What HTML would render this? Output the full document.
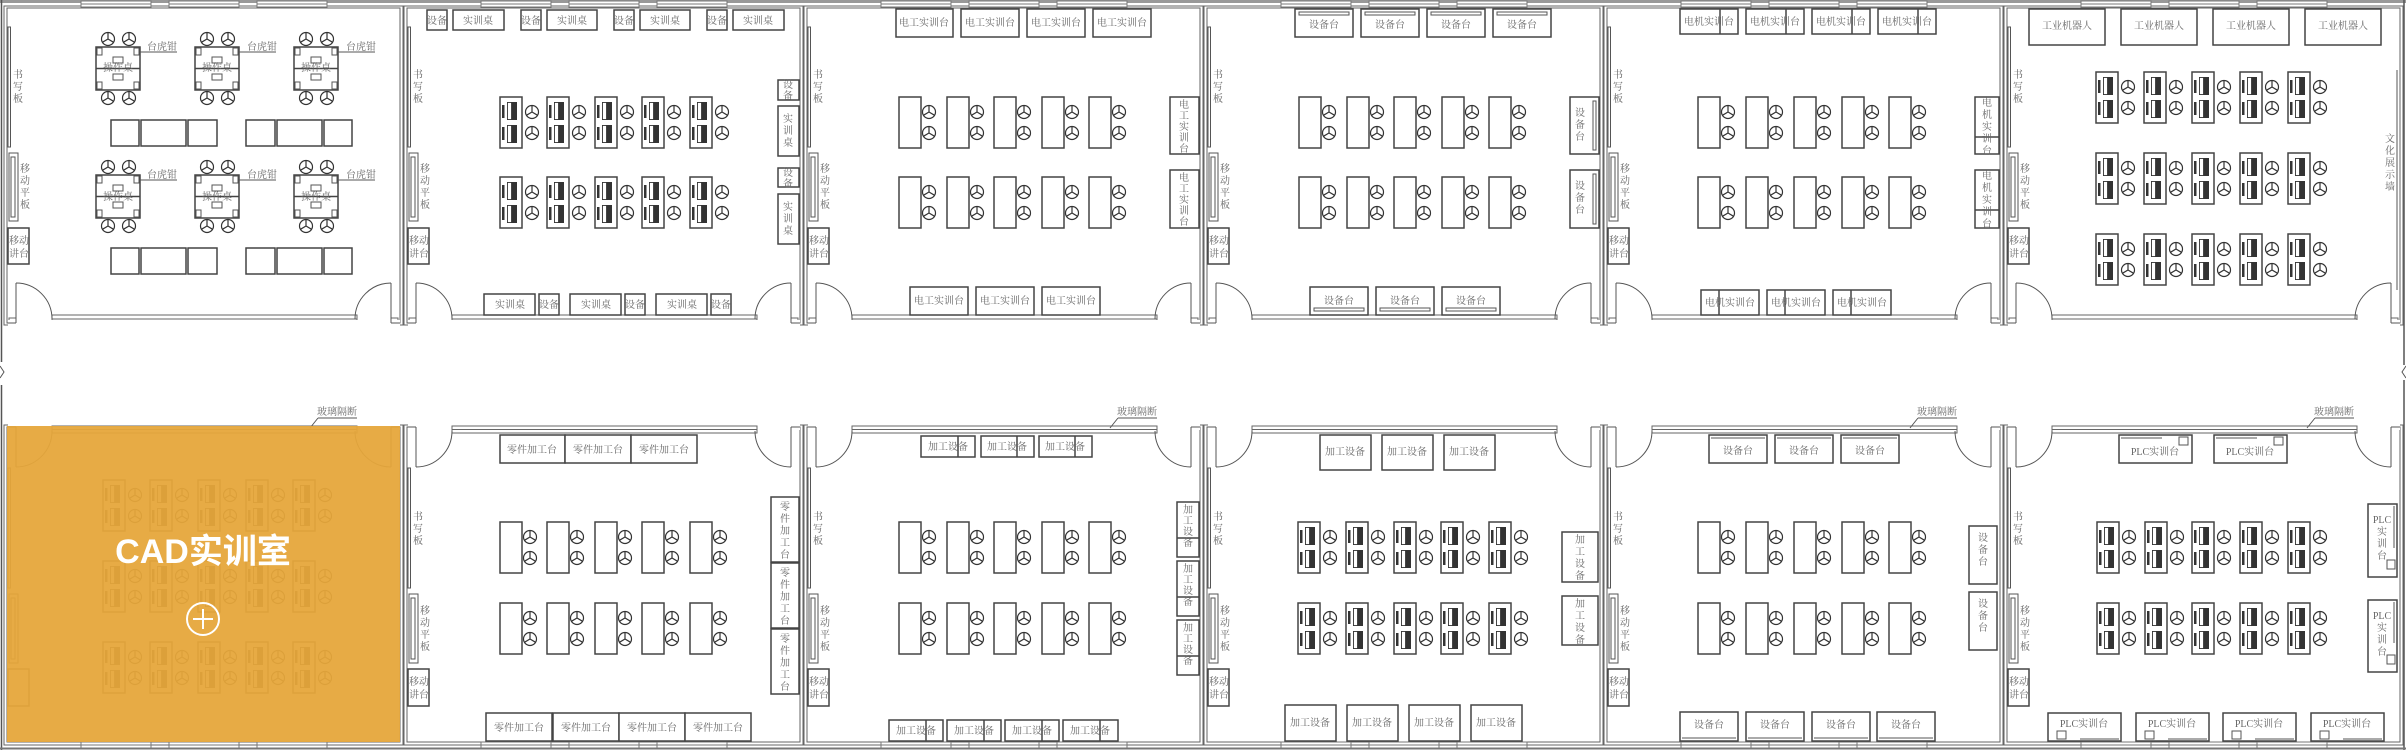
<!DOCTYPE html>
<html><head><meta charset="utf-8"><style>
html,body{margin:0;padding:0;background:#fff;}
svg{display:block;}
.b{fill:#fff;stroke:#444;stroke-width:1.5;}
.t{fill:none;stroke:#555;stroke-width:1;}
.w{fill:none;stroke:#666;stroke-width:1;}
text{font-family:"Liberation Serif","Noto Serif CJK SC",serif;font-size:10px;fill:#666;}
.m{text-anchor:middle;}
</style></head><body>
<svg width="2406" height="750" viewBox="0 0 2406 750" xmlns="http://www.w3.org/2000/svg">
<defs>
<g id="ch"><circle cx="0" cy="0" r="6.5" fill="#fff" stroke="#333" stroke-width="1.2"/><path d="M0 0V-6.5M0 0L5.6 3.3M0 0L-5.6 3.3" stroke="#333" stroke-width="1.2"/></g>
<g id="du"><rect x="0" y="0" width="22" height="51" fill="#fff" stroke="#444" stroke-width="1.5"/><use href="#ch" x="30" y="15"/><use href="#ch" x="30" y="36"/></g>
<g id="pu"><rect x="0" y="0" width="22" height="51" fill="#fff" stroke="#444" stroke-width="1.5"/>
<rect x="2" y="8" width="2.5" height="13" fill="#333"/><rect x="2" y="30" width="2.5" height="13" fill="#333"/>
<rect x="7" y="5" width="10" height="18" fill="#333"/><rect x="7.5" y="5.5" width="4" height="17" fill="#fff" stroke="#333" stroke-width="0.8"/>
<rect x="7" y="28" width="10" height="18" fill="#333"/><rect x="7.5" y="28.5" width="4" height="17" fill="#fff" stroke="#333" stroke-width="0.8"/>
<use href="#ch" x="32" y="15"/><use href="#ch" x="32" y="36"/></g>
<g id="op"><rect x="0" y="0" width="44" height="43" fill="#fff" stroke="#444" stroke-width="1.5"/><line x1="0" y1="21.5" x2="44" y2="21.5" stroke="#444" stroke-width="1.5"/>
<rect x="1" y="1" width="5" height="7" class="t"/><rect x="38" y="1" width="5" height="7" class="t"/><rect x="1" y="35" width="5" height="7" class="t"/><rect x="38" y="35" width="5" height="7" class="t"/>
<rect x="17" y="10" width="10" height="6" class="t"/><rect x="17" y="27" width="10" height="6" class="t"/>
<use href="#ch" x="12" y="-8"/><use href="#ch" x="33" y="-8"/><use href="#ch" x="12" y="51"/><use href="#ch" x="33" y="51"/></g>
<g id="win"><rect x="0" y="0" width="70" height="6" fill="#fff" stroke="#777" stroke-width="1"/><line x1="0" y1="3" x2="70" y2="3" stroke="#777"/></g>
<!-- top room walls, local x 0 = inner left -->
<g id="rt">
<rect x="0" y="8" width="393" height="315" class="w"/>
<rect x="-3" y="6" width="399" height="319" class="w"/>
<use href="#win" x="74" y="1"/><use href="#win" x="162" y="1"/><use href="#win" x="250" y="1"/>
<rect x="45" y="315" width="305" height="8" fill="#fff" class="w"/><line x1="45" y1="319" x2="350" y2="319" stroke="#666"/>
<rect x="2" y="318" width="7" height="5" fill="#fff" stroke="#666"/><rect x="384" y="318" width="7" height="5" fill="#fff" stroke="#666"/>
<rect x="1" y="320" width="392" height="10" fill="#fff" stroke="none"/>
<line x1="9" y1="283" x2="9" y2="323" stroke="#555"/><path d="M9 283A36 36 0 0 1 45 319" class="t"/>
<line x1="384" y1="283" x2="384" y2="323" stroke="#555"/><path d="M384 283A36 36 0 0 0 348 319" class="t"/>
<line x1="0" y1="323" x2="9" y2="323" stroke="#555"/><line x1="384" y1="323" x2="393" y2="323" stroke="#555"/>
<rect x="1" y="27" width="2.5" height="120" class="t"/>
<rect x="2" y="153" width="9" height="68" class="t"/><rect x="4" y="157" width="4" height="60" class="t"/>
<rect x="1" y="228" width="21" height="36" class="b"/>
</g>
<g id="rb">
<rect x="0" y="427" width="393" height="315" class="w"/>
<rect x="-3" y="425" width="399" height="320" class="w"/>
<use href="#win" x="74" y="742"/><use href="#win" x="162" y="742"/><use href="#win" x="250" y="742"/>
<rect x="1" y="420" width="392" height="10" fill="#fff" stroke="none"/>
<rect x="45" y="426" width="305" height="7" fill="#fff" class="w"/><line x1="45" y1="429.5" x2="350" y2="429.5" stroke="#666"/>
<line x1="0" y1="427" x2="9" y2="427" stroke="#555"/><line x1="384" y1="427" x2="393" y2="427" stroke="#555"/>
<line x1="9" y1="427" x2="9" y2="467" stroke="#555"/><path d="M9 467A36 36 0 0 0 45 431" class="t"/>
<line x1="384" y1="427" x2="384" y2="467" stroke="#555"/><path d="M384 467A36 36 0 0 1 348 431" class="t"/>
<rect x="1" y="468" width="2.5" height="120" class="t"/>
<rect x="2" y="594" width="9" height="69" class="t"/><rect x="4" y="598" width="4" height="61" class="t"/>
<rect x="1" y="669" width="21" height="37" class="b"/>
</g>
</defs>

<!-- outer lines -->
<line x1="0" y1="1.5" x2="2406" y2="1.5" stroke="#999" stroke-width="3"/>
<line x1="1.5" y1="0" x2="1.5" y2="362" stroke="#555" stroke-width="1.5"/><path d="M0 366L4 372L0 378" class="t"/><line x1="1.5" y1="385" x2="1.5" y2="750" stroke="#555" stroke-width="1.5"/>
<line x1="2404" y1="0" x2="2404" y2="365" stroke="#555" stroke-width="1.5"/><path d="M2406 366L2402 372L2406 378" class="t"/><line x1="2404" y1="380" x2="2404" y2="750" stroke="#555" stroke-width="1.5"/>
<line x1="0" y1="748.5" x2="2406" y2="748.5" stroke="#777" stroke-width="2"/>

<use href="#rt" x="7"/><use href="#rt" x="407"/><use href="#rt" x="807"/><use href="#rt" x="1207"/><use href="#rt" x="1607"/><use href="#rt" x="2007"/>
<use href="#rb" x="7"/><use href="#rb" x="407"/><use href="#rb" x="807"/><use href="#rb" x="1207"/><use href="#rb" x="1607"/><use href="#rb" x="2007"/>

<!-- left-side labels top -->
<g>
<text x="18" y="78" class="m"><tspan x="18">书</tspan><tspan x="18" dy="12">写</tspan><tspan x="18" dy="12">板</tspan></text>
<text x="25" y="172" class="m"><tspan x="25">移</tspan><tspan x="25" dy="12">动</tspan><tspan x="25" dy="12">平</tspan><tspan x="25" dy="12">板</tspan></text>
<text x="19" y="244" class="m"><tspan x="19">移动</tspan><tspan x="19" dy="13">讲台</tspan></text>
<text x="418" y="78" class="m"><tspan x="418">书</tspan><tspan x="418" dy="12">写</tspan><tspan x="418" dy="12">板</tspan></text>
<text x="425" y="172" class="m"><tspan x="425">移</tspan><tspan x="425" dy="12">动</tspan><tspan x="425" dy="12">平</tspan><tspan x="425" dy="12">板</tspan></text>
<text x="419" y="244" class="m"><tspan x="419">移动</tspan><tspan x="419" dy="13">讲台</tspan></text>
<text x="818" y="78" class="m"><tspan x="818">书</tspan><tspan x="818" dy="12">写</tspan><tspan x="818" dy="12">板</tspan></text>
<text x="825" y="172" class="m"><tspan x="825">移</tspan><tspan x="825" dy="12">动</tspan><tspan x="825" dy="12">平</tspan><tspan x="825" dy="12">板</tspan></text>
<text x="819" y="244" class="m"><tspan x="819">移动</tspan><tspan x="819" dy="13">讲台</tspan></text>
<text x="1218" y="78" class="m"><tspan x="1218">书</tspan><tspan x="1218" dy="12">写</tspan><tspan x="1218" dy="12">板</tspan></text>
<text x="1225" y="172" class="m"><tspan x="1225">移</tspan><tspan x="1225" dy="12">动</tspan><tspan x="1225" dy="12">平</tspan><tspan x="1225" dy="12">板</tspan></text>
<text x="1219" y="244" class="m"><tspan x="1219">移动</tspan><tspan x="1219" dy="13">讲台</tspan></text>
<text x="1618" y="78" class="m"><tspan x="1618">书</tspan><tspan x="1618" dy="12">写</tspan><tspan x="1618" dy="12">板</tspan></text>
<text x="1625" y="172" class="m"><tspan x="1625">移</tspan><tspan x="1625" dy="12">动</tspan><tspan x="1625" dy="12">平</tspan><tspan x="1625" dy="12">板</tspan></text>
<text x="1619" y="244" class="m"><tspan x="1619">移动</tspan><tspan x="1619" dy="13">讲台</tspan></text>
<text x="2018" y="78" class="m"><tspan x="2018">书</tspan><tspan x="2018" dy="12">写</tspan><tspan x="2018" dy="12">板</tspan></text>
<text x="2025" y="172" class="m"><tspan x="2025">移</tspan><tspan x="2025" dy="12">动</tspan><tspan x="2025" dy="12">平</tspan><tspan x="2025" dy="12">板</tspan></text>
<text x="2019" y="244" class="m"><tspan x="2019">移动</tspan><tspan x="2019" dy="13">讲台</tspan></text>
</g>
<!-- left-side labels bottom -->
<g>
<text x="418" y="520" class="m"><tspan x="418">书</tspan><tspan x="418" dy="12">写</tspan><tspan x="418" dy="12">板</tspan></text>
<text x="425" y="614" class="m"><tspan x="425">移</tspan><tspan x="425" dy="12">动</tspan><tspan x="425" dy="12">平</tspan><tspan x="425" dy="12">板</tspan></text>
<text x="419" y="685" class="m"><tspan x="419">移动</tspan><tspan x="419" dy="13">讲台</tspan></text>
<text x="818" y="520" class="m"><tspan x="818">书</tspan><tspan x="818" dy="12">写</tspan><tspan x="818" dy="12">板</tspan></text>
<text x="825" y="614" class="m"><tspan x="825">移</tspan><tspan x="825" dy="12">动</tspan><tspan x="825" dy="12">平</tspan><tspan x="825" dy="12">板</tspan></text>
<text x="819" y="685" class="m"><tspan x="819">移动</tspan><tspan x="819" dy="13">讲台</tspan></text>
<text x="1218" y="520" class="m"><tspan x="1218">书</tspan><tspan x="1218" dy="12">写</tspan><tspan x="1218" dy="12">板</tspan></text>
<text x="1225" y="614" class="m"><tspan x="1225">移</tspan><tspan x="1225" dy="12">动</tspan><tspan x="1225" dy="12">平</tspan><tspan x="1225" dy="12">板</tspan></text>
<text x="1219" y="685" class="m"><tspan x="1219">移动</tspan><tspan x="1219" dy="13">讲台</tspan></text>
<text x="1618" y="520" class="m"><tspan x="1618">书</tspan><tspan x="1618" dy="12">写</tspan><tspan x="1618" dy="12">板</tspan></text>
<text x="1625" y="614" class="m"><tspan x="1625">移</tspan><tspan x="1625" dy="12">动</tspan><tspan x="1625" dy="12">平</tspan><tspan x="1625" dy="12">板</tspan></text>
<text x="1619" y="685" class="m"><tspan x="1619">移动</tspan><tspan x="1619" dy="13">讲台</tspan></text>
<text x="2018" y="520" class="m"><tspan x="2018">书</tspan><tspan x="2018" dy="12">写</tspan><tspan x="2018" dy="12">板</tspan></text>
<text x="2025" y="614" class="m"><tspan x="2025">移</tspan><tspan x="2025" dy="12">动</tspan><tspan x="2025" dy="12">平</tspan><tspan x="2025" dy="12">板</tspan></text>
<text x="2019" y="685" class="m"><tspan x="2019">移动</tspan><tspan x="2019" dy="13">讲台</tspan></text>
</g>

<!-- ROOM 1 TOP -->
<use href="#op" x="96" y="47"/><use href="#op" x="195" y="47"/><use href="#op" x="294" y="47"/>
<use href="#op" x="96" y="175"/><use href="#op" x="195" y="175"/><use href="#op" x="294" y="175"/>
<text x="118" y="71" class="m">操作桌</text><text x="217" y="71" class="m">操作桌</text><text x="316" y="71" class="m">操作桌</text>
<text x="118" y="200" class="m">操作桌</text><text x="217" y="200" class="m">操作桌</text><text x="316" y="200" class="m">操作桌</text>
<g>
<text x="162" y="50" class="m">台虎钳</text><line x1="140" y1="52" x2="177" y2="52" class="t"/>
<text x="262" y="50" class="m">台虎钳</text><line x1="239" y1="52" x2="276" y2="52" class="t"/>
<text x="361" y="50" class="m">台虎钳</text><line x1="338" y1="52" x2="375" y2="52" class="t"/>
<text x="162" y="178" class="m">台虎钳</text><line x1="140" y1="180" x2="177" y2="180" class="t"/>
<text x="262" y="178" class="m">台虎钳</text><line x1="239" y1="180" x2="276" y2="180" class="t"/>
<text x="361" y="178" class="m">台虎钳</text><line x1="338" y1="180" x2="375" y2="180" class="t"/>
</g>
<g>
<rect x="111" y="120" width="28" height="26" class="b"/><rect x="141" y="120" width="45" height="26" class="b"/><rect x="188" y="120" width="29" height="26" class="b"/>
<rect x="246" y="120" width="29" height="26" class="b"/><rect x="277" y="120" width="45" height="26" class="b"/><rect x="324" y="120" width="28" height="26" class="b"/>
<rect x="111" y="248" width="28" height="26" class="b"/><rect x="141" y="248" width="45" height="26" class="b"/><rect x="188" y="248" width="29" height="26" class="b"/>
<rect x="246" y="248" width="29" height="26" class="b"/><rect x="277" y="248" width="45" height="26" class="b"/><rect x="324" y="248" width="28" height="26" class="b"/>
</g>

<!-- ROOM 2 TOP -->
<g>
<rect x="427" y="10" width="20" height="20" class="b"/><text x="437" y="24" class="m">设备</text>
<rect x="453" y="10" width="51" height="20" class="b"/><text x="478" y="24" class="m">实训桌</text>
<rect x="521" y="10" width="20" height="20" class="b"/><text x="531" y="24" class="m">设备</text>
<rect x="547" y="10" width="50" height="20" class="b"/><text x="572" y="24" class="m">实训桌</text>
<rect x="614" y="10" width="20" height="20" class="b"/><text x="624" y="24" class="m">设备</text>
<rect x="640" y="10" width="50" height="20" class="b"/><text x="665" y="24" class="m">实训桌</text>
<rect x="707" y="10" width="20" height="20" class="b"/><text x="717" y="24" class="m">设备</text>
<rect x="733" y="10" width="51" height="20" class="b"/><text x="758" y="24" class="m">实训桌</text>
<rect x="778" y="80" width="21" height="20" class="b"/><text x="788" y="88" class="m"><tspan x="788">设</tspan><tspan x="788" dy="11">备</tspan></text>
<rect x="778" y="106" width="21" height="50" class="b"/><text x="788" y="122" class="m"><tspan x="788">实</tspan><tspan x="788" dy="12">训</tspan><tspan x="788" dy="12">桌</tspan></text>
<rect x="778" y="168" width="21" height="19" class="b"/><text x="788" y="176" class="m"><tspan x="788">设</tspan><tspan x="788" dy="11">备</tspan></text>
<rect x="778" y="194" width="21" height="50" class="b"/><text x="788" y="210" class="m"><tspan x="788">实</tspan><tspan x="788" dy="12">训</tspan><tspan x="788" dy="12">桌</tspan></text>
<rect x="484" y="294" width="51" height="21" class="b"/><text x="510" y="308" class="m">实训桌</text>
<rect x="539" y="294" width="20" height="21" class="b"/><text x="549" y="308" class="m">设备</text>
<rect x="570" y="294" width="51" height="21" class="b"/><text x="596" y="308" class="m">实训桌</text>
<rect x="625" y="294" width="20" height="21" class="b"/><text x="635" y="308" class="m">设备</text>
<rect x="656" y="294" width="51" height="21" class="b"/><text x="682" y="308" class="m">实训桌</text>
<rect x="711" y="294" width="20" height="21" class="b"/><text x="721" y="308" class="m">设备</text>
</g>
<use href="#pu" x="500" y="97"/><use href="#pu" x="547" y="97"/><use href="#pu" x="595" y="97"/><use href="#pu" x="642" y="97"/><use href="#pu" x="690" y="97"/>
<use href="#pu" x="500" y="177"/><use href="#pu" x="547" y="177"/><use href="#pu" x="595" y="177"/><use href="#pu" x="642" y="177"/><use href="#pu" x="690" y="177"/>

<!-- ROOM 3 TOP -->
<g>
<rect x="896" y="9" width="57" height="28" class="b"/><text x="924" y="26" class="m">电工实训台</text>
<rect x="961" y="9" width="58" height="28" class="b"/><text x="990" y="26" class="m">电工实训台</text>
<rect x="1027" y="9" width="58" height="28" class="b"/><text x="1056" y="26" class="m">电工实训台</text>
<rect x="1093" y="9" width="58" height="28" class="b"/><text x="1122" y="26" class="m">电工实训台</text>
<rect x="1170" y="97" width="29" height="57" class="b"/><text x="1184" y="108" class="m"><tspan x="1184">电</tspan><tspan x="1184" dy="11">工</tspan><tspan x="1184" dy="11">实</tspan><tspan x="1184" dy="11">训</tspan><tspan x="1184" dy="11">台</tspan></text>
<rect x="1170" y="170" width="29" height="58" class="b"/><text x="1184" y="181" class="m"><tspan x="1184">电</tspan><tspan x="1184" dy="11">工</tspan><tspan x="1184" dy="11">实</tspan><tspan x="1184" dy="11">训</tspan><tspan x="1184" dy="11">台</tspan></text>
<rect x="910" y="287" width="58" height="28" class="b"/><text x="939" y="304" class="m">电工实训台</text>
<rect x="976" y="287" width="58" height="28" class="b"/><text x="1005" y="304" class="m">电工实训台</text>
<rect x="1042" y="287" width="58" height="28" class="b"/><text x="1071" y="304" class="m">电工实训台</text>
</g>
<use href="#du" x="899" y="97"/><use href="#du" x="947" y="97"/><use href="#du" x="994" y="97"/><use href="#du" x="1042" y="97"/><use href="#du" x="1089" y="97"/>
<use href="#du" x="899" y="177"/><use href="#du" x="947" y="177"/><use href="#du" x="994" y="177"/><use href="#du" x="1042" y="177"/><use href="#du" x="1089" y="177"/>

<!-- ROOM 4 TOP -->
<g>
<rect x="1295" y="9" width="58" height="28" class="b"/><rect x="1299" y="12" width="50" height="3" class="t"/><text x="1324" y="28" class="m">设备台</text>
<rect x="1361" y="9" width="58" height="28" class="b"/><rect x="1365" y="12" width="50" height="3" class="t"/><text x="1390" y="28" class="m">设备台</text>
<rect x="1427" y="9" width="58" height="28" class="b"/><rect x="1431" y="12" width="50" height="3" class="t"/><text x="1456" y="28" class="m">设备台</text>
<rect x="1493" y="9" width="58" height="28" class="b"/><rect x="1497" y="12" width="50" height="3" class="t"/><text x="1522" y="28" class="m">设备台</text>
<rect x="1570" y="97" width="29" height="57" class="b"/><rect x="1593" y="101" width="3" height="49" class="t"/><text x="1580" y="116" class="m"><tspan x="1580">设</tspan><tspan x="1580" dy="12">备</tspan><tspan x="1580" dy="12">台</tspan></text>
<rect x="1570" y="170" width="29" height="58" class="b"/><rect x="1593" y="174" width="3" height="50" class="t"/><text x="1580" y="189" class="m"><tspan x="1580">设</tspan><tspan x="1580" dy="12">备</tspan><tspan x="1580" dy="12">台</tspan></text>
<rect x="1310" y="287" width="58" height="28" class="b"/><rect x="1314" y="308" width="50" height="3" class="t"/><text x="1339" y="304" class="m">设备台</text>
<rect x="1376" y="287" width="58" height="28" class="b"/><rect x="1380" y="308" width="50" height="3" class="t"/><text x="1405" y="304" class="m">设备台</text>
<rect x="1442" y="287" width="58" height="28" class="b"/><rect x="1446" y="308" width="50" height="3" class="t"/><text x="1471" y="304" class="m">设备台</text>
</g>
<use href="#du" x="1299" y="97"/><use href="#du" x="1347" y="97"/><use href="#du" x="1394" y="97"/><use href="#du" x="1442" y="97"/><use href="#du" x="1489" y="97"/>
<use href="#du" x="1299" y="177"/><use href="#du" x="1347" y="177"/><use href="#du" x="1394" y="177"/><use href="#du" x="1442" y="177"/><use href="#du" x="1489" y="177"/>

<!-- ROOM 5 TOP -->
<g>
<rect x="1680" y="9" width="58" height="25" class="b"/><line x1="1720" y1="9" x2="1720" y2="34" stroke="#444" stroke-width="1.5"/><text x="1709" y="25" class="m">电机实训台</text>
<rect x="1746" y="9" width="58" height="25" class="b"/><line x1="1786" y1="9" x2="1786" y2="34" stroke="#444" stroke-width="1.5"/><text x="1775" y="25" class="m">电机实训台</text>
<rect x="1812" y="9" width="58" height="25" class="b"/><line x1="1852" y1="9" x2="1852" y2="34" stroke="#444" stroke-width="1.5"/><text x="1841" y="25" class="m">电机实训台</text>
<rect x="1878" y="9" width="58" height="25" class="b"/><line x1="1918" y1="9" x2="1918" y2="34" stroke="#444" stroke-width="1.5"/><text x="1907" y="25" class="m">电机实训台</text>
<rect x="1975" y="97" width="24" height="57" class="b"/><line x1="1975" y1="137" x2="1999" y2="137" stroke="#444" stroke-width="1.5"/><text x="1987" y="106" class="m"><tspan x="1987">电</tspan><tspan x="1987" dy="12">机</tspan><tspan x="1987" dy="12">实</tspan><tspan x="1987" dy="12">训</tspan><tspan x="1987" dy="12">台</tspan></text>
<rect x="1975" y="170" width="24" height="58" class="b"/><line x1="1975" y1="210" x2="1999" y2="210" stroke="#444" stroke-width="1.5"/><text x="1987" y="179" class="m"><tspan x="1987">电</tspan><tspan x="1987" dy="12">机</tspan><tspan x="1987" dy="12">实</tspan><tspan x="1987" dy="12">训</tspan><tspan x="1987" dy="12">台</tspan></text>
<rect x="1701" y="290" width="58" height="25" class="b"/><line x1="1719" y1="290" x2="1719" y2="315" stroke="#444" stroke-width="1.5"/><text x="1730" y="306" class="m">电机实训台</text>
<rect x="1767" y="290" width="58" height="25" class="b"/><line x1="1785" y1="290" x2="1785" y2="315" stroke="#444" stroke-width="1.5"/><text x="1796" y="306" class="m">电机实训台</text>
<rect x="1833" y="290" width="58" height="25" class="b"/><line x1="1851" y1="290" x2="1851" y2="315" stroke="#444" stroke-width="1.5"/><text x="1862" y="306" class="m">电机实训台</text>
</g>
<use href="#du" x="1698" y="97"/><use href="#du" x="1746" y="97"/><use href="#du" x="1794" y="97"/><use href="#du" x="1842" y="97"/><use href="#du" x="1889" y="97"/>
<use href="#du" x="1698" y="177"/><use href="#du" x="1746" y="177"/><use href="#du" x="1794" y="177"/><use href="#du" x="1842" y="177"/><use href="#du" x="1889" y="177"/>

<!-- ROOM 6 TOP -->
<g>
<rect x="2029" y="9" width="76" height="36" class="b"/><text x="2067" y="29" class="m">工业机器人</text>
<rect x="2121" y="9" width="76" height="36" class="b"/><text x="2159" y="29" class="m">工业机器人</text>
<rect x="2213" y="9" width="76" height="36" class="b"/><text x="2251" y="29" class="m">工业机器人</text>
<rect x="2305" y="9" width="76" height="36" class="b"/><text x="2343" y="29" class="m">工业机器人</text>
<line x1="2397" y1="70" x2="2397" y2="290" class="t"/>
<text x="2390" y="142" class="m"><tspan x="2390">文</tspan><tspan x="2390" dy="12">化</tspan><tspan x="2390" dy="12">展</tspan><tspan x="2390" dy="12">示</tspan><tspan x="2390" dy="12">墙</tspan></text>
</g>
<use href="#pu" x="2096" y="72"/><use href="#pu" x="2144" y="72"/><use href="#pu" x="2192" y="72"/><use href="#pu" x="2240" y="72"/><use href="#pu" x="2288" y="72"/>
<use href="#pu" x="2096" y="153"/><use href="#pu" x="2144" y="153"/><use href="#pu" x="2192" y="153"/><use href="#pu" x="2240" y="153"/><use href="#pu" x="2288" y="153"/>
<use href="#pu" x="2096" y="234"/><use href="#pu" x="2144" y="234"/><use href="#pu" x="2192" y="234"/><use href="#pu" x="2240" y="234"/><use href="#pu" x="2288" y="234"/>

<!-- glass partition labels -->
<g>
<text x="337" y="415" class="m">玻璃隔断</text><line x1="318" y1="418" x2="357" y2="418" class="t"/><line x1="318" y1="418" x2="310" y2="428" class="t"/>
<text x="1137" y="415" class="m">玻璃隔断</text><line x1="1118" y1="418" x2="1157" y2="418" class="t"/><line x1="1118" y1="418" x2="1110" y2="428" class="t"/>
<text x="1937" y="415" class="m">玻璃隔断</text><line x1="1918" y1="418" x2="1957" y2="418" class="t"/><line x1="1918" y1="418" x2="1910" y2="428" class="t"/>
<text x="2334" y="415" class="m">玻璃隔断</text><line x1="2315" y1="418" x2="2354" y2="418" class="t"/><line x1="2315" y1="418" x2="2307" y2="428" class="t"/>
</g>

<!-- ROOM 1 BOTTOM (under overlay) -->
<use href="#pu" x="103" y="480"/><use href="#pu" x="150" y="480"/><use href="#pu" x="198" y="480"/><use href="#pu" x="246" y="480"/><use href="#pu" x="293" y="480"/>
<use href="#pu" x="103" y="561"/><use href="#pu" x="150" y="561"/><use href="#pu" x="198" y="561"/><use href="#pu" x="246" y="561"/><use href="#pu" x="293" y="561"/>
<use href="#pu" x="103" y="642"/><use href="#pu" x="150" y="642"/><use href="#pu" x="198" y="642"/><use href="#pu" x="246" y="642"/><use href="#pu" x="293" y="642"/>

<!-- ROOM 2 BOTTOM -->
<g>
<rect x="500" y="435" width="65" height="28" class="b"/><text x="532" y="453" class="m">零件加工台</text>
<rect x="565" y="435" width="66" height="28" class="b"/><text x="598" y="453" class="m">零件加工台</text>
<rect x="631" y="435" width="66" height="28" class="b"/><text x="664" y="453" class="m">零件加工台</text>
<rect x="771" y="497" width="28" height="65" class="b"/><text x="785" y="510" class="m"><tspan x="785">零</tspan><tspan x="785" dy="12">件</tspan><tspan x="785" dy="12">加</tspan><tspan x="785" dy="12">工</tspan><tspan x="785" dy="12">台</tspan></text>
<rect x="771" y="563" width="28" height="65" class="b"/><text x="785" y="576" class="m"><tspan x="785">零</tspan><tspan x="785" dy="12">件</tspan><tspan x="785" dy="12">加</tspan><tspan x="785" dy="12">工</tspan><tspan x="785" dy="12">台</tspan></text>
<rect x="771" y="629" width="28" height="65" class="b"/><text x="785" y="642" class="m"><tspan x="785">零</tspan><tspan x="785" dy="12">件</tspan><tspan x="785" dy="12">加</tspan><tspan x="785" dy="12">工</tspan><tspan x="785" dy="12">台</tspan></text>
<rect x="486" y="713" width="66" height="28" class="b"/><text x="519" y="731" class="m">零件加工台</text>
<rect x="553" y="713" width="66" height="28" class="b"/><text x="586" y="731" class="m">零件加工台</text>
<rect x="619" y="713" width="66" height="28" class="b"/><text x="652" y="731" class="m">零件加工台</text>
<rect x="685" y="713" width="66" height="28" class="b"/><text x="718" y="731" class="m">零件加工台</text>
</g>
<use href="#du" x="500" y="522"/><use href="#du" x="547" y="522"/><use href="#du" x="595" y="522"/><use href="#du" x="642" y="522"/><use href="#du" x="690" y="522"/>
<use href="#du" x="500" y="603"/><use href="#du" x="547" y="603"/><use href="#du" x="595" y="603"/><use href="#du" x="642" y="603"/><use href="#du" x="690" y="603"/>

<!-- ROOM 3 BOTTOM -->
<g>
<rect x="921" y="436" width="54" height="21" class="b"/><line x1="958" y1="436" x2="958" y2="457" stroke="#444" stroke-width="1.5"/><text x="948" y="450" class="m">加工设备</text>
<rect x="981" y="436" width="53" height="21" class="b"/><line x1="1017" y1="436" x2="1017" y2="457" stroke="#444" stroke-width="1.5"/><text x="1007" y="450" class="m">加工设备</text>
<rect x="1039" y="436" width="53" height="21" class="b"/><line x1="1075" y1="436" x2="1075" y2="457" stroke="#444" stroke-width="1.5"/><text x="1065" y="450" class="m">加工设备</text>
<rect x="1177" y="502" width="22" height="55" class="b"/><line x1="1177" y1="538" x2="1199" y2="538" stroke="#444" stroke-width="1.5"/><text x="1188" y="513" class="m"><tspan x="1188">加</tspan><tspan x="1188" dy="11">工</tspan><tspan x="1188" dy="11">设</tspan><tspan x="1188" dy="11">备</tspan></text>
<rect x="1177" y="561" width="22" height="55" class="b"/><line x1="1177" y1="597" x2="1199" y2="597" stroke="#444" stroke-width="1.5"/><text x="1188" y="572" class="m"><tspan x="1188">加</tspan><tspan x="1188" dy="11">工</tspan><tspan x="1188" dy="11">设</tspan><tspan x="1188" dy="11">备</tspan></text>
<rect x="1177" y="620" width="22" height="55" class="b"/><line x1="1177" y1="656" x2="1199" y2="656" stroke="#444" stroke-width="1.5"/><text x="1188" y="631" class="m"><tspan x="1188">加</tspan><tspan x="1188" dy="11">工</tspan><tspan x="1188" dy="11">设</tspan><tspan x="1188" dy="11">备</tspan></text>
<rect x="889" y="720" width="54" height="21" class="b"/><line x1="926" y1="720" x2="926" y2="741" stroke="#444" stroke-width="1.5"/><text x="916" y="734" class="m">加工设备</text>
<rect x="947" y="720" width="54" height="21" class="b"/><line x1="984" y1="720" x2="984" y2="741" stroke="#444" stroke-width="1.5"/><text x="974" y="734" class="m">加工设备</text>
<rect x="1005" y="720" width="54" height="21" class="b"/><line x1="1042" y1="720" x2="1042" y2="741" stroke="#444" stroke-width="1.5"/><text x="1032" y="734" class="m">加工设备</text>
<rect x="1063" y="720" width="55" height="21" class="b"/><line x1="1100" y1="720" x2="1100" y2="741" stroke="#444" stroke-width="1.5"/><text x="1090" y="734" class="m">加工设备</text>
</g>
<use href="#du" x="899" y="522"/><use href="#du" x="947" y="522"/><use href="#du" x="994" y="522"/><use href="#du" x="1042" y="522"/><use href="#du" x="1089" y="522"/>
<use href="#du" x="899" y="603"/><use href="#du" x="947" y="603"/><use href="#du" x="994" y="603"/><use href="#du" x="1042" y="603"/><use href="#du" x="1089" y="603"/>

<!-- ROOM 4 BOTTOM -->
<g>
<rect x="1320" y="435" width="51" height="35" class="b"/><text x="1345" y="455" class="m">加工设备</text>
<rect x="1382" y="435" width="51" height="35" class="b"/><text x="1407" y="455" class="m">加工设备</text>
<rect x="1444" y="435" width="51" height="35" class="b"/><text x="1469" y="455" class="m">加工设备</text>
<rect x="1562" y="532" width="36" height="50" class="b"/><text x="1580" y="543" class="m"><tspan x="1580">加</tspan><tspan x="1580" dy="12">工</tspan><tspan x="1580" dy="12">设</tspan><tspan x="1580" dy="12">备</tspan></text>
<rect x="1562" y="596" width="36" height="49" class="b"/><text x="1580" y="607" class="m"><tspan x="1580">加</tspan><tspan x="1580" dy="12">工</tspan><tspan x="1580" dy="12">设</tspan><tspan x="1580" dy="12">备</tspan></text>
<rect x="1285" y="705" width="51" height="36" class="b"/><text x="1310" y="726" class="m">加工设备</text>
<rect x="1347" y="705" width="51" height="36" class="b"/><text x="1372" y="726" class="m">加工设备</text>
<rect x="1409" y="705" width="51" height="36" class="b"/><text x="1434" y="726" class="m">加工设备</text>
<rect x="1471" y="705" width="51" height="36" class="b"/><text x="1496" y="726" class="m">加工设备</text>
</g>
<use href="#pu" x="1298" y="522"/><use href="#pu" x="1346" y="522"/><use href="#pu" x="1394" y="522"/><use href="#pu" x="1441" y="522"/><use href="#pu" x="1489" y="522"/>
<use href="#pu" x="1298" y="603"/><use href="#pu" x="1346" y="603"/><use href="#pu" x="1394" y="603"/><use href="#pu" x="1441" y="603"/><use href="#pu" x="1489" y="603"/>

<!-- ROOM 5 BOTTOM -->
<g>
<rect x="1709" y="435" width="58" height="28" class="b"/><line x1="1711" y1="438" x2="1765" y2="438" class="t"/><text x="1738" y="454" class="m">设备台</text>
<rect x="1775" y="435" width="58" height="28" class="b"/><line x1="1777" y1="438" x2="1831" y2="438" class="t"/><text x="1804" y="454" class="m">设备台</text>
<rect x="1841" y="435" width="58" height="28" class="b"/><line x1="1843" y1="438" x2="1897" y2="438" class="t"/><text x="1870" y="454" class="m">设备台</text>
<rect x="1969" y="526" width="28" height="58" class="b"/><text x="1983" y="541" class="m"><tspan x="1983">设</tspan><tspan x="1983" dy="12">备</tspan><tspan x="1983" dy="12">台</tspan></text>
<rect x="1969" y="592" width="28" height="58" class="b"/><text x="1983" y="607" class="m"><tspan x="1983">设</tspan><tspan x="1983" dy="12">备</tspan><tspan x="1983" dy="12">台</tspan></text>
<rect x="1680" y="712" width="58" height="29" class="b"/><line x1="1682" y1="738" x2="1736" y2="738" class="t"/><text x="1709" y="728" class="m">设备台</text>
<rect x="1746" y="712" width="58" height="29" class="b"/><line x1="1748" y1="738" x2="1802" y2="738" class="t"/><text x="1775" y="728" class="m">设备台</text>
<rect x="1812" y="712" width="58" height="29" class="b"/><line x1="1814" y1="738" x2="1868" y2="738" class="t"/><text x="1841" y="728" class="m">设备台</text>
<rect x="1877" y="712" width="58" height="29" class="b"/><line x1="1879" y1="738" x2="1933" y2="738" class="t"/><text x="1906" y="728" class="m">设备台</text>
</g>
<use href="#du" x="1698" y="522"/><use href="#du" x="1746" y="522"/><use href="#du" x="1794" y="522"/><use href="#du" x="1842" y="522"/><use href="#du" x="1889" y="522"/>
<use href="#du" x="1698" y="603"/><use href="#du" x="1746" y="603"/><use href="#du" x="1794" y="603"/><use href="#du" x="1842" y="603"/><use href="#du" x="1889" y="603"/>

<!-- ROOM 6 BOTTOM -->
<g>
<rect x="2119" y="435" width="73" height="28" class="b"/><line x1="2121" y1="438" x2="2162" y2="438" class="t"/><rect x="2179" y="437" width="9" height="8" class="t"/><text x="2155" y="455" class="m">PLC实训台</text>
<rect x="2214" y="435" width="73" height="28" class="b"/><line x1="2216" y1="438" x2="2257" y2="438" class="t"/><rect x="2274" y="437" width="9" height="8" class="t"/><text x="2250" y="455" class="m">PLC实训台</text>
<rect x="2368" y="504" width="29" height="73" class="b"/><line x1="2394" y1="506" x2="2394" y2="548" class="t"/><rect x="2387" y="560" width="8" height="9" class="t"/><text x="2382" y="523" class="m"><tspan x="2382">PLC</tspan><tspan x="2382" dy="12">实</tspan><tspan x="2382" dy="12">训</tspan><tspan x="2382" dy="12">台</tspan></text>
<rect x="2368" y="600" width="29" height="72" class="b"/><line x1="2394" y1="602" x2="2394" y2="643" class="t"/><rect x="2387" y="655" width="8" height="9" class="t"/><text x="2382" y="619" class="m"><tspan x="2382">PLC</tspan><tspan x="2382" dy="12">实</tspan><tspan x="2382" dy="12">训</tspan><tspan x="2382" dy="12">台</tspan></text>
<rect x="2048" y="713" width="73" height="28" class="b"/><rect x="2057" y="731" width="9" height="8" class="t"/><line x1="2080" y1="739" x2="2119" y2="739" class="t"/><text x="2084" y="727" class="m">PLC实训台</text>
<rect x="2136" y="713" width="73" height="28" class="b"/><rect x="2145" y="731" width="9" height="8" class="t"/><line x1="2168" y1="739" x2="2207" y2="739" class="t"/><text x="2172" y="727" class="m">PLC实训台</text>
<rect x="2223" y="713" width="73" height="28" class="b"/><rect x="2232" y="731" width="9" height="8" class="t"/><line x1="2255" y1="739" x2="2294" y2="739" class="t"/><text x="2259" y="727" class="m">PLC实训台</text>
<rect x="2311" y="713" width="73" height="28" class="b"/><rect x="2320" y="731" width="9" height="8" class="t"/><line x1="2343" y1="739" x2="2382" y2="739" class="t"/><text x="2347" y="727" class="m">PLC实训台</text>
</g>
<use href="#pu" x="2097" y="522"/><use href="#pu" x="2145" y="522"/><use href="#pu" x="2192" y="522"/><use href="#pu" x="2240" y="522"/><use href="#pu" x="2288" y="522"/>
<use href="#pu" x="2097" y="603"/><use href="#pu" x="2145" y="603"/><use href="#pu" x="2192" y="603"/><use href="#pu" x="2240" y="603"/><use href="#pu" x="2288" y="603"/>

<!-- orange overlay -->
<rect x="7" y="426" width="393" height="316" fill="#E6A73B" fill-opacity="0.95"/>
<text x="203" y="563" text-anchor="middle" style="font-family:'Liberation Sans','Noto Sans CJK SC',sans-serif;font-size:34px;font-weight:bold;fill:#fff;">CAD实训室</text>
<circle cx="203" cy="619" r="16" fill="none" stroke="#fff" stroke-width="2"/>
<path d="M203 609V629M193 619H213" stroke="#fff" stroke-width="2"/>
</svg>
</body></html>
